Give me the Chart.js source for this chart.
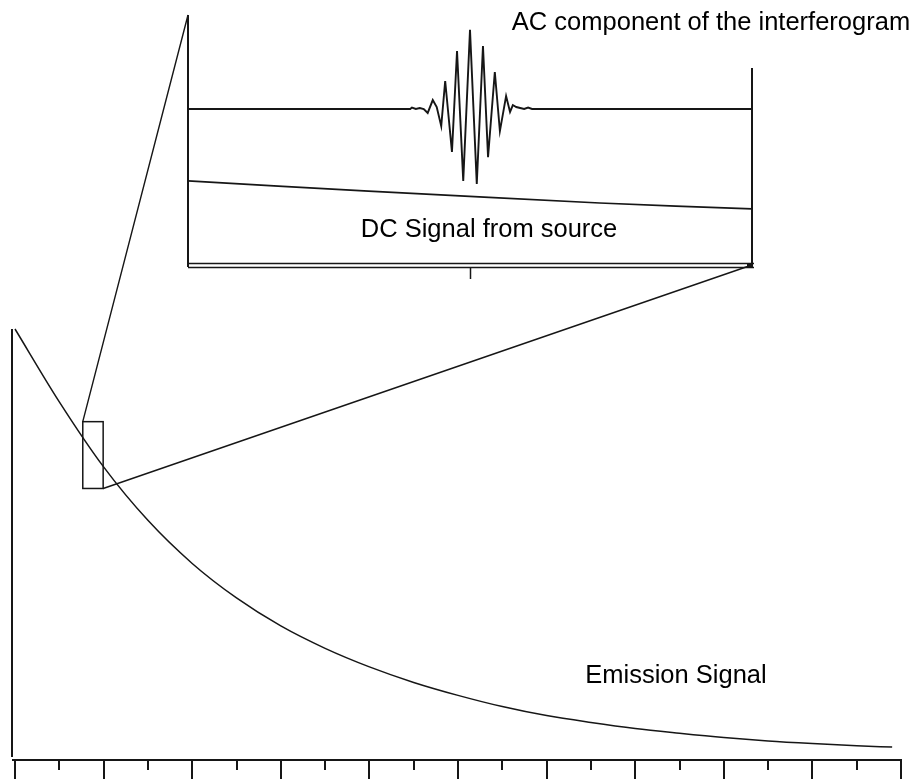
<!DOCTYPE html>
<html>
<head>
<meta charset="utf-8">
<title>Emission signal and interferogram</title>
<script src="https://cdn.jsdelivr.net/npm/chart.js@4/dist/chart.umd.min.js"></script>
<style>
  html, body { margin: 0; padding: 0; background: #ffffff; }
  #wrap { position: relative; width: 919px; height: 780px; overflow: hidden; }
  #mainChart { position: absolute; left: 0; top: 0; }
  #insetChart { position: absolute; left: 176px; top: 0; }
</style>
</head>
<body>
<div id="wrap">
  <canvas id="mainChart" width="919" height="780"></canvas>
  <canvas id="insetChart" width="600" height="290"></canvas>
</div>
<script>
// ---- Emission signal (decaying source intensity) ----
const emissionTime = [0, 1, 2, 3, 4, 5, 6, 7, 8, 9, 10, 11, 12, 13, 14, 15, 16, 17, 18, 19, 19.8];
const emissionLevel = [1.000, 0.831, 0.680, 0.556, 0.456, 0.376, 0.311, 0.259, 0.216, 0.180,
                       0.150, 0.124, 0.103, 0.087, 0.073, 0.062, 0.052, 0.044, 0.038, 0.033, 0.030];
const timeTicks = [0, 1, 2, 3, 4, 5, 6, 7, 8, 9, 10, 11, 12, 13, 14, 15, 16, 17, 18, 19, 20];

// Region of the emission curve shown magnified in the inset
const zoomWindow = { xMin: 1.53, xMax: 1.99, yMin: 0.63, yMax: 0.785 };

// ---- Inset: AC interferogram riding on the DC level ----
const acPathDiff = [-50, -10.6, -10.3, -9.6, -8.9, -8.2, -7.5, -6.6, -5.9, -5.1, -4.4, -3.2, -2.3, -1.2,
                    0, 1.2, 2.3, 3.2, 4.4, 5.3, 6.4, 7.1, 7.6, 8.2, 8.9, 9.6, 10.3, 11.0, 50];
const acSignal = [0, 0, 0.06, 0, 0.04, 0, -0.16, 0.36, 0.08, -0.69, 1.13, -1.73, 2.34, -2.90,
                  3.19, -3.02, 2.54, -1.94, 1.49, -0.89, 0.52, -0.12, 0.16, 0.08, 0.04, 0, 0.06, 0, 0];
const dcPathDiff = [-50, -18, 23, 50];
const dcSignal = [3.31, 2.90, 2.42, 2.18];

const AC_LEVEL = 6.21;        // vertical offset the AC trace is drawn at
const RIGHT_EDGE_TOP = 7.86;  // height of the inset's right border

const INK = '#161616';
const FONT = '25.5px "Liberation Sans", Arial, Helvetica, sans-serif';

function pts(xs, ys, offset) {
  return xs.map((x, i) => ({ x: x, y: ys[i] + (offset || 0) }));
}

// ---------- inset chart ----------
const insetFrame = {
  id: 'insetFrame',
  afterDatasetsDraw(chart) {
    const ctx = chart.ctx;
    const a = chart.chartArea;
    const xs = chart.scales.x, ys = chart.scales.y;
    ctx.save();
    ctx.strokeStyle = INK;
    ctx.lineCap = 'butt';
    // left border
    ctx.lineWidth = 2;
    ctx.beginPath();
    ctx.moveTo(a.left, a.top);
    ctx.lineTo(a.left, a.bottom + 4);
    ctx.stroke();
    // right border
    ctx.beginPath();
    ctx.moveTo(a.right, ys.getPixelForValue(RIGHT_EDGE_TOP));
    ctx.lineTo(a.right, a.bottom + 4);
    ctx.stroke();
    // double base line
    ctx.lineWidth = 1.3;
    ctx.beginPath();
    ctx.moveTo(a.left, a.bottom + 0.5);
    ctx.lineTo(a.right + 2, a.bottom + 0.5);
    ctx.moveTo(a.left, a.bottom + 4.5);
    ctx.lineTo(a.right + 2, a.bottom + 4.5);
    ctx.stroke();
    // centre tick
    ctx.lineWidth = 1.5;
    const cx = Math.round(xs.getPixelForValue(0)) + 0.5;
    ctx.beginPath();
    ctx.moveTo(cx, a.bottom + 5);
    ctx.lineTo(cx, a.bottom + 16);
    ctx.stroke();
    ctx.restore();
  }
};

const insetChart = new Chart(document.getElementById('insetChart'), {
  type: 'line',
  data: {
    datasets: [
      {
        label: 'AC component',
        data: pts(acPathDiff, acSignal, AC_LEVEL),
        borderColor: INK,
        borderWidth: 1.9,
        pointRadius: 0,
        tension: 0,
        clip: false
      },
      {
        label: 'DC signal',
        data: pts(dcPathDiff, dcSignal),
        borderColor: INK,
        borderWidth: 1.7,
        pointRadius: 0,
        tension: 0.3,
        clip: false
      }
    ]
  },
  options: {
    responsive: false,
    animation: false,
    devicePixelRatio: 1,
    layout: { padding: { left: 12, right: 24, top: 15, bottom: 27 } },
    plugins: { legend: { display: false }, tooltip: { enabled: false } },
    events: [],
    scales: {
      x: { type: 'linear', min: -50, max: 50, display: false },
      y: { type: 'linear', min: 0, max: 10, display: false }
    }
  },
  plugins: [insetFrame]
});

// ---------- main chart ----------
const mainFrame = {
  id: 'mainFrame',
  afterDatasetsDraw(chart) {
    const ctx = chart.ctx;
    const a = chart.chartArea;
    const xs = chart.scales.x, ys = chart.scales.y;
    ctx.save();
    ctx.strokeStyle = INK;
    ctx.lineCap = 'butt';

    // vertical axis
    ctx.lineWidth = 2;
    ctx.beginPath();
    ctx.moveTo(a.left - 3, ys.getPixelForValue(1));
    ctx.lineTo(a.left - 3, a.bottom - 3);
    ctx.stroke();
    // horizontal axis
    ctx.beginPath();
    ctx.moveTo(a.left - 3, a.bottom);
    ctx.lineTo(a.right + 1, a.bottom);
    ctx.stroke();
    // ticks: long on even steps, short on odd ones
    timeTicks.forEach((t, i) => {
      const px = Math.round(xs.getPixelForValue(t));
      ctx.beginPath();
      ctx.moveTo(px, a.bottom);
      ctx.lineTo(px, a.bottom + (i % 2 === 0 ? 19 : 10));
      ctx.stroke();
    });

    // magnified region
    const bx0 = xs.getPixelForValue(zoomWindow.xMin);
    const bx1 = xs.getPixelForValue(zoomWindow.xMax);
    const by0 = ys.getPixelForValue(zoomWindow.yMax);
    const by1 = ys.getPixelForValue(zoomWindow.yMin);
    ctx.lineWidth = 1.5;
    ctx.strokeRect(bx0, by0, bx1 - bx0, by1 - by0);

    // connectors to the inset
    const ic = insetChart.canvas;
    const ia = insetChart.chartArea;
    const iLeft = ic.offsetLeft + ia.left;
    const iTop = ic.offsetTop + ia.top;
    const iRight = ic.offsetLeft + ia.right - 3;
    const iBottom = ic.offsetTop + ia.bottom + 3;
    ctx.lineWidth = 1.4;
    ctx.beginPath();
    ctx.moveTo(bx0, by0);
    ctx.lineTo(iLeft, iTop);
    ctx.moveTo(bx1, by1);
    ctx.lineTo(iRight, iBottom);
    ctx.stroke();
    ctx.fillStyle = INK;
    ctx.fillRect(iRight - 2, iBottom - 2, 4, 3);

    // labels
    ctx.fillStyle = '#000000';
    ctx.font = FONT;
    ctx.textAlign = 'center';
    ctx.textBaseline = 'alphabetic';
    ctx.fillText('AC component of the interferogram', 711, 30);
    ctx.fillText('DC Signal from source', 489, 237);
    ctx.fillText('Emission Signal', 676, 683);
    ctx.restore();
  }
};

new Chart(document.getElementById('mainChart'), {
  type: 'line',
  data: {
    datasets: [{
      label: 'Emission Signal',
      data: pts(emissionTime, emissionLevel),
      borderColor: INK,
      borderWidth: 1.5,
      pointRadius: 0,
      cubicInterpolationMode: 'monotone',
      clip: false
    }]
  },
  options: {
    responsive: false,
    animation: false,
    devicePixelRatio: 1,
    layout: { padding: { left: 15, right: 18, top: 329, bottom: 20 } },
    plugins: { legend: { display: false }, tooltip: { enabled: false } },
    events: [],
    scales: {
      x: { type: 'linear', min: 0, max: 20, display: false },
      y: { type: 'linear', min: 0, max: 1, display: false }
    }
  },
  plugins: [mainFrame]
});
</script>
</body>
</html>
